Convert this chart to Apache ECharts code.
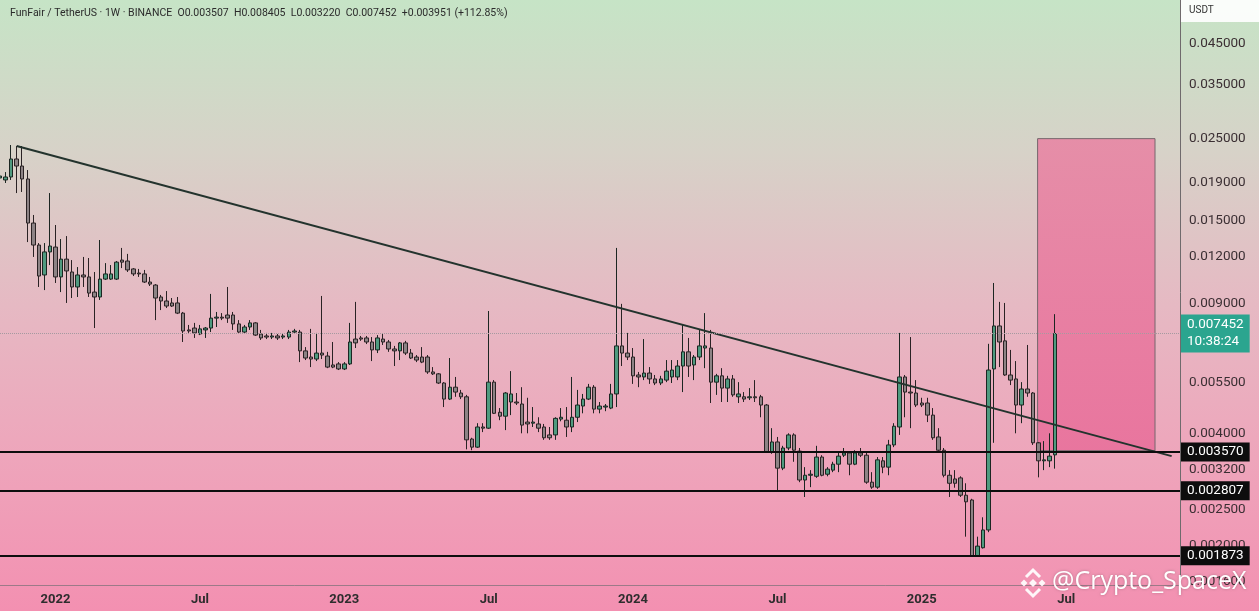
<!DOCTYPE html>
<html><head><meta charset="utf-8">
<script src="https://cdn.jsdelivr.net/npm/echarts@6/dist/echarts.min.js"></script>
<style>html,body{margin:0;padding:0;overflow:hidden}#c{width:1259px;height:611px}</style>
</head><body><div id="c"></div>
<script>
// weekly candles, first week starts Monday 2021-10-25
const firstWeek = [2021, 9, 25];
const opens = [0.01958,0.01934,0.01970,0.02203,0.02109,0.01946,0.01480,0.01291,0.01072,0.01237,
0.01275,0.01059,0.01183,0.01092,0.00995,0.01072,0.01059,0.00964,0.00935,0.01045,
0.01045,0.01045,0.01176,0.01169,0.01113,0.01085,0.01079,0.01026,0.01007,0.00935,
0.00912,0.00901,0.00901,0.00846,0.00762,0.00771,0.00743,0.00762,0.00771,0.00820,
0.00825,0.00836,0.00836,0.00791,0.00752,0.00776,0.00796,0.00743,0.00734,0.00729,
0.00734,0.00729,0.00729,0.00752,0.00752,0.00669,0.00644,0.00636,0.00660,0.00648,
0.00613,0.00617,0.00598,0.00617,0.00720,0.00725,0.00725,0.00707,0.00673,0.00720,
0.00707,0.00677,0.00669,0.00703,0.00660,0.00644,0.00644,0.00644,0.00587,0.00580,
0.00548,0.00496,0.00534,0.00515,0.00503,0.00387,0.00368,0.00417,0.00414,0.00551,
0.00457,0.00446,0.00487,0.00487,0.00481,0.00430,0.00427,0.00425,0.00417,0.00397,
0.00397,0.00438,0.00435,0.00417,0.00443,0.00475,0.00496,0.00534,0.00466,0.00472,
0.00469,0.00512,0.00690,0.00660,0.00644,0.00576,0.00569,0.00583,0.00562,0.00548,
0.00558,0.00569,0.00569,0.00609,0.00665,0.00613,0.00644,0.00681,0.00681,0.00551,
0.00573,0.00531,0.00562,0.00503,0.00503,0.00500,0.00503,0.00503,0.00478,0.00357,
0.00380,0.00323,0.00366,0.00397,0.00359,0.00300,0.00309,0.00307,0.00346,0.00311,
0.00319,0.00331,0.00350,0.00355,0.00331,0.00355,0.00350,0.00296,0.00287,0.00338,
0.00325,0.00373,0.00417,0.00569,0.00518,0.00515,0.00484,0.00484,0.00449,0.00392,
0.00361,0.00309,0.00302,0.00304,0.00273,0.00265,0.00187,0.00197,0.00220,0.00598,
0.00781,0.00712,0.00576,0.00562,0.00478,0.00528,0.00515,0.00378,0.00338,0.00338,
0.003507];
const closes = [0.01982,0.01970,0.02203,0.02109,0.01946,0.01480,0.01291,0.01065,0.01237,0.01283,
0.01059,0.01183,0.01099,0.00995,0.01072,0.01059,0.00958,0.00935,0.01045,0.01079,
0.01079,0.01161,0.01161,0.01106,0.01079,0.01079,0.01026,0.01013,0.00929,0.00912,
0.00884,0.00884,0.00846,0.00757,0.00757,0.00748,0.00767,0.00771,0.00820,0.00825,
0.00820,0.00820,0.00791,0.00752,0.00776,0.00796,0.00738,0.00725,0.00729,0.00734,
0.00725,0.00734,0.00752,0.00757,0.00669,0.00640,0.00636,0.00660,0.00652,0.00605,
0.00605,0.00598,0.00617,0.00707,0.00703,0.00720,0.00707,0.00673,0.00725,0.00707,
0.00677,0.00669,0.00703,0.00660,0.00640,0.00632,0.00624,0.00587,0.00580,0.00548,
0.00496,0.00534,0.00518,0.00503,0.00385,0.00368,0.00417,0.00414,0.00551,0.00454,
0.00446,0.00515,0.00512,0.00484,0.00422,0.00425,0.00430,0.00414,0.00390,0.00390,
0.00440,0.00443,0.00417,0.00443,0.00478,0.00496,0.00534,0.00466,0.00475,0.00475,
0.00512,0.00690,0.00660,0.00644,0.00573,0.00569,0.00583,0.00562,0.00548,0.00562,
0.00590,0.00594,0.00609,0.00665,0.00609,0.00644,0.00690,0.00690,0.00551,0.00573,
0.00531,0.00562,0.00509,0.00512,0.00496,0.00503,0.00500,0.00478,0.00357,0.00380,
0.00323,0.00366,0.00397,0.00361,0.00300,0.00309,0.00311,0.00346,0.00309,0.00321,
0.00331,0.00348,0.00355,0.00331,0.00355,0.00350,0.00296,0.00287,0.00340,0.00325,
0.00373,0.00419,0.00569,0.00518,0.00515,0.00478,0.00478,0.00449,0.00390,0.00361,
0.00309,0.00294,0.00294,0.00273,0.00262,0.00187,0.00199,0.00220,0.00594,0.00781,
0.00707,0.00576,0.00558,0.00478,0.00528,0.00515,0.00378,0.00338,0.00340,0.00348,
0.007452];
const lows = [0.01910,0.01898,0.01934,0.01783,0.01795,0.01315,0.01199,0.00995,0.00976,0.01140,
0.01020,0.00964,0.00901,0.00929,0.00935,0.00995,0.00935,0.00771,0.00918,0.01039,
0.01039,0.01039,0.01119,0.01092,0.01065,0.01059,0.01020,0.01001,0.00810,0.00862,
0.00873,0.00879,0.00841,0.00707,0.00748,0.00725,0.00738,0.00725,0.00752,0.00776,
0.00810,0.00796,0.00762,0.00748,0.00743,0.00762,0.00734,0.00716,0.00720,0.00720,
0.00716,0.00720,0.00720,0.00748,0.00624,0.00632,0.00605,0.00628,0.00636,0.00601,
0.00601,0.00594,0.00594,0.00613,0.00681,0.00712,0.00698,0.00628,0.00660,0.00694,
0.00665,0.00609,0.00632,0.00652,0.00636,0.00624,0.00620,0.00580,0.00576,0.00545,
0.00472,0.00493,0.00503,0.00496,0.00363,0.00361,0.00366,0.00404,0.00412,0.00452,
0.00435,0.00409,0.00449,0.00478,0.00401,0.00401,0.00417,0.00404,0.00385,0.00385,
0.00385,0.00432,0.00392,0.00404,0.00430,0.00454,0.00493,0.00454,0.00454,0.00460,
0.00466,0.00472,0.00609,0.00632,0.00545,0.00534,0.00558,0.00545,0.00541,0.00541,
0.00551,0.00548,0.00558,0.00518,0.00569,0.00558,0.00632,0.00601,0.00484,0.00509,
0.00487,0.00487,0.00503,0.00484,0.00487,0.00493,0.00487,0.00443,0.00355,0.00353,
0.00280,0.00319,0.00361,0.00336,0.00296,0.00270,0.00287,0.00304,0.00307,0.00307,
0.00315,0.00315,0.00346,0.00309,0.00329,0.00346,0.00293,0.00284,0.00284,0.00313,
0.00309,0.00368,0.00397,0.00443,0.00414,0.00472,0.00472,0.00430,0.00385,0.00357,
0.00305,0.00270,0.00286,0.00270,0.00211,0.00186,0.00186,0.00196,0.00217,0.00378,
0.00605,0.00573,0.00541,0.00401,0.00427,0.00503,0.00373,0.00305,0.00319,0.00325,
0.003220];
const highs = [0.02044,0.02031,0.02403,0.02388,0.02388,0.02057,0.01556,0.01307,0.01307,0.01783,
0.01462,0.01340,0.01365,0.01176,0.01126,0.01199,0.01191,0.01092,0.01332,0.01154,
0.01140,0.01169,0.01268,0.01222,0.01119,0.01113,0.01106,0.01059,0.01013,0.00947,
0.00970,0.00929,0.00935,0.00852,0.00786,0.00796,0.00786,0.00776,0.00953,0.00852,
0.00846,0.00995,0.00852,0.00810,0.00786,0.00810,0.00800,0.00762,0.00748,0.00748,
0.00743,0.00743,0.00762,0.00767,0.00762,0.00685,0.00767,0.00748,0.00941,0.00665,
0.00707,0.00624,0.00624,0.00796,0.00907,0.00734,0.00734,0.00729,0.00738,0.00743,
0.00716,0.00690,0.00707,0.00712,0.00677,0.00652,0.00685,0.00652,0.00605,0.00583,
0.00551,0.00640,0.00569,0.00525,0.00509,0.00390,0.00427,0.00427,0.00857,0.00558,
0.00469,0.00518,0.00590,0.00515,0.00534,0.00500,0.00472,0.00443,0.00425,0.00417,
0.00443,0.00469,0.00472,0.00569,0.00525,0.00512,0.00545,0.00541,0.00487,0.00481,
0.00545,0.01268,0.00896,0.00748,0.00681,0.00587,0.00720,0.00605,0.00576,0.00573,
0.00632,0.00632,0.00632,0.00786,0.00725,0.00652,0.00762,0.00846,0.00762,0.00580,
0.00601,0.00573,0.00576,0.00551,0.00518,0.00531,0.00558,0.00509,0.00481,0.00414,
0.00392,0.00371,0.00401,0.00401,0.00366,0.00325,0.00319,0.00371,0.00350,0.00325,
0.00336,0.00355,0.00366,0.00357,0.00361,0.00366,0.00355,0.00315,0.00346,0.00346,
0.00385,0.00427,0.00748,0.00576,0.00729,0.00558,0.00500,0.00500,0.00469,0.00414,
0.00366,0.00319,0.00319,0.00307,0.00294,0.00267,0.00211,0.00238,0.00699,0.01020,
0.00907,0.00901,0.00673,0.00628,0.00551,0.00694,0.00518,0.00380,0.00382,0.00401,
0.008405];

const yTickValues = [0.045,0.035,0.025,0.019,0.015,0.012,0.009,0.0055,0.004,0.0032,0.0025,0.002,0.0016];
const xTickDates = ['2022-01-03','2022-07-04','2023-01-02','2023-07-03','2024-01-01','2024-07-01','2024-12-30','2025-06-30'];
const xTickLabels = ['2022','Jul','2023','Jul','2024','Jul','2025','Jul'];
const levelPrices = [0.003570, 0.002807, 0.001873];
const lastPrice = 0.007452;
const countdown = '10:38:24';
const trendLine = [['2021-11-15', 0.02388], ['2025-11-10', 0.00348]];
const targetBox = [['2025-05-25', 0.025], ['2025-10-20', 0.00360]];
const headerText = 'FunFair / TetherUS · 1W · BINANCE  O0.003507  H0.008405  L0.003220  C0.007452  +0.003951 (+112.85%)';

const DAY = 86400000;
const t0 = Date.UTC(firstWeek[0], firstWeek[1], firstWeek[2]);
const utc = s => { const p = s.split('-').map(Number); return Date.UTC(p[0], p[1]-1, p[2]); };
const candles = opens.map((o, i) => [t0 + i*7*DAY, o, closes[i], lows[i], highs[i]]);
const xTickTimes = xTickDates.map(utc);
const labelFor = {};
xTickTimes.forEach((t, i) => { labelFor[t] = xTickLabels[i]; });

const chart = echarts.init(document.getElementById('c'));
const FONT = 'Roboto, "DejaVu Sans", sans-serif';

function diamond(cx, cy, r) {
  return { type: 'polygon', shape: { points: [[cx, cy - r], [cx + r, cy], [cx, cy + r], [cx - r, cy]] },
    style: { fill: 'rgba(255,255,255,0.92)' }, z: 100 };
}

chart.setOption({
  animation: false,
  backgroundColor: new echarts.graphic.LinearGradient(0, 0, 0, 1, [
    { offset: 0, color: '#c6e4c6' },
    { offset: 0.25, color: '#d7d2c8' },
    { offset: 0.5, color: '#e6b9c3' },
    { offset: 0.75, color: '#eea5bb' },
    { offset: 1, color: '#f390b1' }
  ]),
  title: {
    text: headerText, left: 5, top: 3,
    textStyle: { fontSize: 10.5, fontWeight: 'normal', color: '#2b2b2b', fontFamily: FONT }
  },
  grid: { left: 0, right: 79, top: 0, bottom: 26 },
  xAxis: {
    type: 'value',
    min: t0, max: utc('2025-11-20') + DAY/2,
    axisLine: { show: true, lineStyle: { color: '#9c7a88', width: 1 } },
    axisTick: { show: false },
    splitLine: { show: false },
    axisLabel: {
      customValues: xTickTimes,
      formatter: v => labelFor[v] || '',
      color: '#2d2d2d', fontSize: 13, fontFamily: FONT, fontWeight: 'bold', margin: 8
    }
  },
  yAxis: {
    type: 'log', logBase: 10, position: 'right',
    min: 0.001563, max: 0.05914,
    axisLine: { show: true, lineStyle: { color: '#6f6a6c', width: 1 } },
    axisTick: { show: false },
    splitLine: { show: false },
    axisLabel: {
      customValues: yTickValues,
      formatter: v => Number(v).toFixed(6),
      color: '#3b2f33', fontSize: 13.5, fontFamily: FONT, margin: 9
    }
  },
  series: [
    {
      type: 'candlestick',
      data: candles,
      barWidth: 4,
      itemStyle: {
        color: '#4f9a7f', color0: '#8d8385',
        borderColor: '#1c2622', borderColor0: '#2a2224', borderWidth: 1
      },
      markArea: {
        silent: true,
        itemStyle: {
          color: new echarts.graphic.LinearGradient(0, 0, 0, 1, [
            { offset: 0, color: 'rgba(232,130,162,0.85)' },
            { offset: 1, color: 'rgba(232,112,155,0.9)' }
          ]),
          borderColor: '#76666c', borderWidth: 1
        },
        data: [[{ xAxis: utc(targetBox[0][0]), yAxis: targetBox[0][1] }, { xAxis: utc(targetBox[1][0]), yAxis: targetBox[1][1] }]]
      },
      markLine: {
        silent: true, symbol: 'none', animation: false, precision: 6,
        data: [
          ...levelPrices.map(p => ({
            yAxis: p,
            lineStyle: { color: '#0d0d0d', width: 2, type: 'solid' },
            label: {
              show: true, position: 'end', distance: 1, formatter: p.toFixed(6),
              backgroundColor: '#0d0d0d', color: '#fff', fontSize: 13.5, fontFamily: FONT,
              padding: [3, 6, 2, 6]
            }
          })),
          {
            yAxis: lastPrice,
            lineStyle: { color: '#a59aa0', width: 1, type: 'dotted' },
            label: {
              show: true, position: 'end', distance: 1, formatter: lastPrice.toFixed(6) + '\n' + countdown,
              backgroundColor: '#2ba58f', color: '#fff', fontSize: 13.5, lineHeight: 17, fontFamily: FONT,
              padding: [2, 6, 2, 6]
            }
          }
        ]
      }
    },
    {
      type: 'line',
      data: trendLine.map(d => [utc(d[0]), d[1]]),
      symbol: 'none',
      lineStyle: { color: '#23332d', width: 2 },
      z: 4
    }
  ],
  graphic: [
    { type: 'rect', shape: { x: 1181, y: 0, width: 78, height: 22 }, style: { fill: 'rgba(255,255,255,0.9)' }, z: 100 },
    { type: 'text', x: 1189, y: 5, style: { text: 'USDT', fontSize: 10, fill: '#333', fontFamily: FONT }, z: 101 },
    diamond(1033, 583, 4),
    diamond(1024, 583, 3.5),
    diamond(1042, 583, 3.5),
    { type: 'polyline', shape: { points: [[1026, 577], [1033, 570], [1040, 577]] }, style: { stroke: 'rgba(255,255,255,0.92)', lineWidth: 3, fill: null }, z: 100 },
    { type: 'polyline', shape: { points: [[1026, 589], [1033, 596], [1040, 589]] }, style: { stroke: 'rgba(255,255,255,0.92)', lineWidth: 3, fill: null }, z: 100 },
    { type: 'text', x: 1052, y: 569, style: { text: '@Crypto_SpaceX', fontSize: 25, fill: '#ffffff', fontFamily: '"Open Sans", sans-serif',
      textShadowColor: 'rgba(0,0,0,0.25)', textShadowBlur: 3 }, z: 100 }
  ]
});
</script>
</body></html>
